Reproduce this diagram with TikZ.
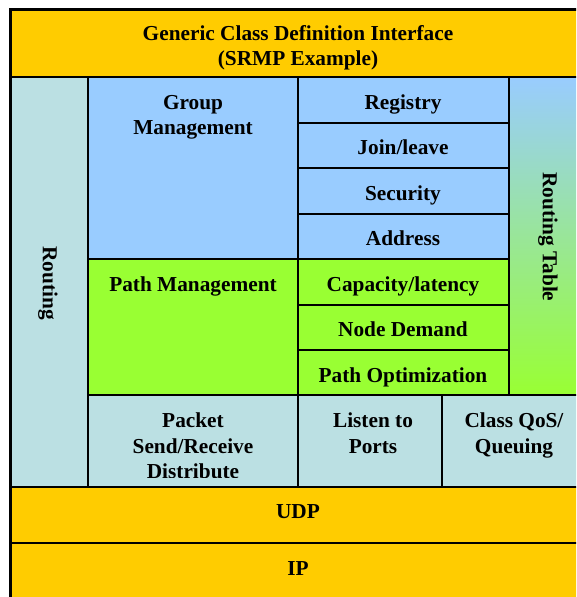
\documentclass[tikz,border=0pt]{standalone}
\usepackage{fontspec}
\setmainfont{Liberation Serif}
\definecolor{ylw}{HTML}{FFCC00}
\definecolor{lblue}{HTML}{99CCFF}
\definecolor{lgreen}{HTML}{99FF33}
\definecolor{lteal}{HTML}{BBE0E3}
\definecolor{midrt}{HTML}{99DDDD}
\begin{document}
\begin{tikzpicture}[x=1pt,y=-1pt,
  cell/.style={draw=black,line width=1.8pt},
  lbl/.style={font=\bfseries\fontsize{21.3}{25}\selectfont, anchor=base, inner sep=0pt},
  rlbl/.style={font=\bfseries\fontsize{21.3}{25}\selectfont, anchor=center, inner sep=0pt, rotate=-90}]
\useasboundingbox (0,0) rectangle (576,597);
\clip (0,0) rectangle (576,597);
% cells
\fill[ylw] (10,9) rectangle (586,77);
\fill[lteal] (10,77) rectangle (88,487);
\fill[lblue] (88,77) rectangle (509,259);
\fill[lgreen] (88,259) rectangle (509,395);
\shade[top color=lblue, middle color=midrt, bottom color=lgreen] (509,77) rectangle (586,395);
\fill[lteal] (88,395) rectangle (586,487);
\fill[ylw] (10,487) rectangle (586,610);
% grid lines
\draw[cell] (10,77) -- (586,77);
\draw[cell] (88,77) -- (88,487);
\draw[cell] (298,77) -- (298,487);
\draw[cell] (509,77) -- (509,395);
\draw[cell] (298,123) -- (509,123);
\draw[cell] (298,168) -- (509,168);
\draw[cell] (298,214) -- (509,214);
\draw[cell] (88,259) -- (509,259);
\draw[cell] (298,305) -- (509,305);
\draw[cell] (298,350) -- (509,350);
\draw[cell] (88,395) -- (586,395);
\draw[cell] (442,395) -- (442,487);
\draw[cell] (10,487) -- (586,487);
\draw[cell] (10,543) -- (586,543);
\draw[black,line width=3pt] (10,9) rectangle (586,610);
% labels
\node[lbl] (t1) at (298,40) {Generic Class Definition Interface};
\node[lbl] (t2) at (298,65) {(SRMP Example)};
\node[lbl] (g1) at (193,109) {Group};
\node[lbl] (g2) at (193,134) {Management};
\node[lbl] (reg) at (403,109) {Registry};
\node[lbl] (join) at (403,154) {Join/leave};
\node[lbl] (sec) at (403,200) {Security};
\node[lbl] (addr) at (403,245) {Address};
\node[lbl] (pm) at (193,291) {Path Management};
\node[lbl] (cap) at (403,291) {Capacity/latency};
\node[lbl] (nd) at (403,336) {Node Demand};
\node[lbl] (po) at (403,382) {Path Optimization};
\begin{scope}
\clip (88,395) rectangle (298,477);
\node[lbl] (p1) at (193,427) {Packet};
\node[lbl] (p2) at (193,453) {Send/Receive};
\node[lbl] (p3) at (193,478.5) {Distribute};
\end{scope}
\node[lbl] (l1) at (373,427) {Listen to};
\node[lbl] (l2) at (373,453) {Ports};
\node[lbl] (q1) at (514,427) {Class QoS/};
\node[lbl] (q2) at (514,453) {Queuing};
\node[lbl] (udp) at (298,518) {UDP};
\node[lbl] (ip) at (298,575) {IP};
\node[rlbl] (rt) at (48,283) {Routing};
\node[rlbl] (rtab) at (548,237) {Routing Table};
\end{tikzpicture}
\end{document}
